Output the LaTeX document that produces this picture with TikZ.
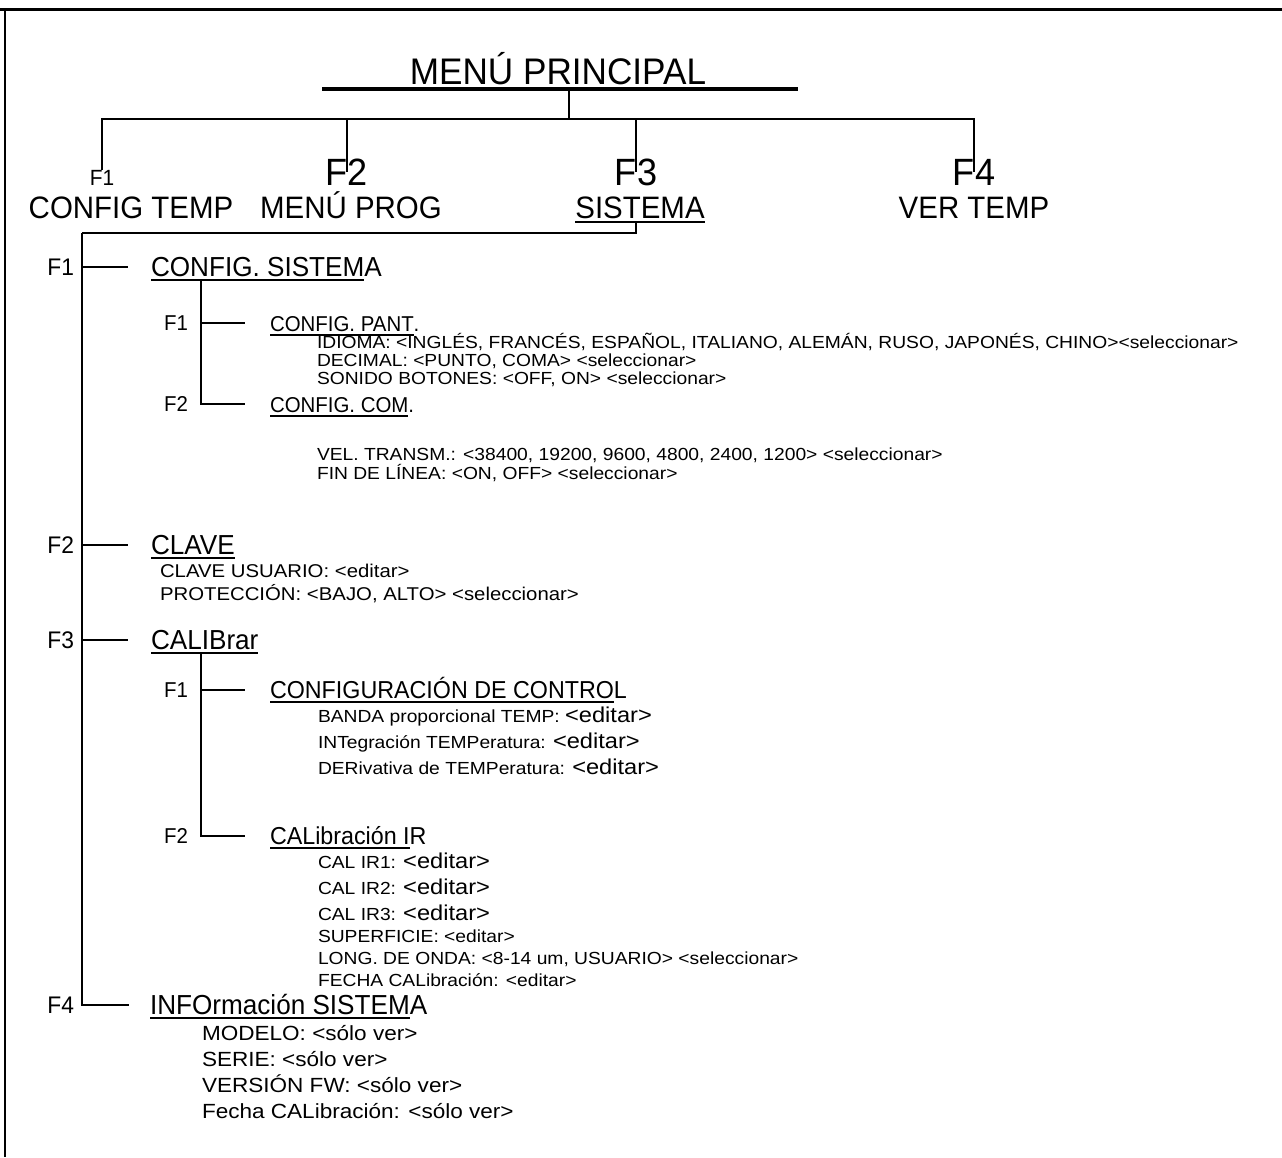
\documentclass[tikz,border=0pt]{standalone}
\usepackage{fontspec}
\setmainfont{Liberation Sans}[FakeStretch=0.95]
\newfontfamily\itemfont{Liberation Sans}[FakeStretch=1.1]
\newcommand{\fsz}[1]{\fontsize{#1}{#1}\selectfont}
\newsavebox{\ulbox}
\newcommand{\ulx}[1]{\sbox{\ulbox}{#1}\rlap{\rule[-4.5pt]{\wd\ulbox}{1.6pt}}\usebox{\ulbox}}
\newcommand{\edt}{{\fsz{21.5}<editar>}}

\begin{document}
\begin{tikzpicture}[x=1pt, y=-1pt,
    every node/.style={inner sep=0pt, outer sep=0pt},
    fkey/.style={anchor=base east},
    head/.style={anchor=base west},
    entry/.style={anchor=base west, font=\itemfont\fsz{17.5}},
    wire/.style={line width=2pt},
    trunk/.style={line width=2.5pt}]
  \useasboundingbox (0,0) rectangle (1282,1157);
  \draw[line width=3pt] (0,9) -- (1282,9);
  \draw[trunk] (5,9) -- (5,1157);

  \node[font=\fsz{37}, anchor=base] (menu) at (558,84) {MENÚ PRINCIPAL};
  \coordinate (ulL) at (322,89);
  \coordinate (ulR) at (798,89);
  \coordinate (hub) at (569,119);
  \draw[line width=3.5pt] (ulL) -- (ulR);
  \draw[wire] (ulL -| hub) -- (hub);

  \node[font=\fsz{22}, anchor=base] (m1) at (102,185) {F1};
  \node[font=\fsz{38}, anchor=base] (m2) at (347,185) {F2};
  \node[font=\fsz{38}, anchor=base] (m3) at (636,185) {F3};
  \node[font=\fsz{38}, anchor=base] (m4) at (974,185) {F4};
  \node[font=\fsz{31}, anchor=base] (temp) at (131,218) {CONFIG TEMP};
  \node[font=\fsz{31}, anchor=base] (prog) at (351,218) {MENÚ PROG};
  \node[font=\fsz{31}, anchor=base] (sis) at (640,218) {\ulx{SISTEMA}};
  \node[font=\fsz{31}, anchor=base] (ver) at (974,218) {VER TEMP};
  \draw[wire] (m1.north) -- (m1.north |- hub) -- (m4.center |- hub) -- (m4.center);
  \draw[wire] (m2.center |- hub) -- (m2.center);
  \draw[wire] (m3.center |- hub) -- (m3.center);

  \coordinate (sp0) at (82,233);
  \draw[wire] (m3.center |- sis.south) -- (m3.center |- sp0) -- (sp0);

  \node[fkey, font=\fsz{24}] (ka) at (74,275) {F1};
  \node[head, font=\fsz{27.5}] (ha) at (151,276) {\ulx{CONFIG. SISTEM}A};
  \node[fkey, font=\fsz{24}] (kb) at (74,553) {F2};
  \node[head, font=\fsz{27.5}] (hb) at (151,554) {\ulx{CLAVE}};
  \node[fkey, font=\fsz{24}] (kc) at (74,648) {F3};
  \node[head, font=\fsz{27.5}] (hc) at (151,649) {\ulx{CALIBrar}};
  \node[fkey, font=\fsz{24}] (kd) at (74,1013) {F4};
  \node[head, font=\fsz{27.5}] (hd) at (150,1014) {\ulx{INFOrmación SISTEM}A};
  \draw[trunk, shorten >=21pt] (sp0) |- (kd.center -| hd.west);
  \draw[wire, shorten >=23pt] (ka.center -| sp0) -- (ka.center -| ha.west);
  \draw[wire, shorten >=23pt] (kb.center -| sp0) -- (kb.center -| hb.west);
  \draw[wire, shorten >=23pt] (kc.center -| sp0) -- (kc.center -| hc.west);

  \coordinate (sp1) at ([xshift=50pt]ha.south west);
  \node[fkey, font=\fsz{21.5}] (kaa) at (188,330) {F1};
  \node[head, font=\fsz{21.5}] (haa) at (270,331) {\ulx{CONFIG. PANT}.};
  \node[fkey, font=\fsz{21.5}] (kab) at (188,411) {F2};
  \node[head, font=\fsz{21.5}] (hab) at (270,412) {\ulx{CONFIG. COM}.};
  \draw[wire, shorten >=25pt] (sp1) |- (kab.center -| hab.west);
  \draw[wire, shorten >=25pt] (kaa.center -| sp1) -- (kaa.center -| haa.west);
  \node[entry] (ia1) at (317,348) {IDIOMA: <INGLÉS, FRANCÉS, ESPAÑOL, ITALIANO, ALEMÁN, RUSO, JAPONÉS, CHINO><seleccionar>};
  \node[entry] (ia2) at (317,366) {DECIMAL: <PUNTO, COMA> <seleccionar>};
  \node[entry] (ia3) at (317,384) {SONIDO BOTONES: <OFF, ON> <seleccionar>};
  \node[entry] (ib1) at (317,460) {VEL. TRANSM.: <38400, 19200, 9600, 4800, 2400, 1200> <seleccionar>};
  \node[entry] (ib2) at (317,479) {FIN DE LÍNEA: <ON, OFF> <seleccionar>};

  \node[entry, font=\itemfont\fsz{18.5}] (ic1) at (160,577) {CLAVE USUARIO: <editar>};
  \node[entry, font=\itemfont\fsz{18.5}] (ic2) at (160,600) {PROTECCIÓN: <BAJO, ALTO> <seleccionar>};

  \coordinate (sp2) at ([xshift=50pt]hc.south west);
  \node[fkey, font=\fsz{21.5}] (kca) at (188,697) {F1};
  \node[head, font=\fsz{24.5}] (hca) at (270,698) {\ulx{CONFIGURACIÓN DE CONTRO}L};
  \node[fkey, font=\fsz{21.5}] (kcb) at (188,843) {F2};
  \node[head, font=\fsz{24.5}] (hcb) at (270,844) {\ulx{CALibración I}R};
  \draw[wire, shorten >=25pt] (sp2) |- (kcb.center -| hcb.west);
  \draw[wire, shorten >=25pt] (kca.center -| sp2) -- (kca.center -| hca.west);
  \node[entry] (id1) at (318,722) {BANDA proporcional TEMP: \edt};
  \node[entry] (id2) at (318,748) {INTegración TEMPeratura: \edt};
  \node[entry] (id3) at (318,774) {DERivativa de TEMPeratura: \edt};
  \node[entry] (ie1) at (318,868) {CAL IR1: \edt};
  \node[entry] (ie2) at (318,894) {CAL IR2: \edt};
  \node[entry] (ie3) at (318,920) {CAL IR3: \edt};
  \node[entry] (ie4) at (318,942) {SUPERFICIE: <editar>};
  \node[entry] (ie5) at (318,964) {LONG. DE ONDA: <8-14 um, USUARIO> <seleccionar>};
  \node[entry] (ie6) at (318,986) {FECHA CALibración: <editar>};

  \node[entry, font=\itemfont\fsz{20.5}] (if1) at (202,1040) {MODELO: <sólo ver>};
  \node[entry, font=\itemfont\fsz{20.5}] (if2) at (202,1066) {SERIE: <sólo ver>};
  \node[entry, font=\itemfont\fsz{20.5}] (if3) at (202,1092) {VERSIÓN FW: <sólo ver>};
  \node[entry, font=\itemfont\fsz{20.5}] (if4) at (202,1118) {Fecha CALibración: <sólo ver>};
\end{tikzpicture}
\end{document}
